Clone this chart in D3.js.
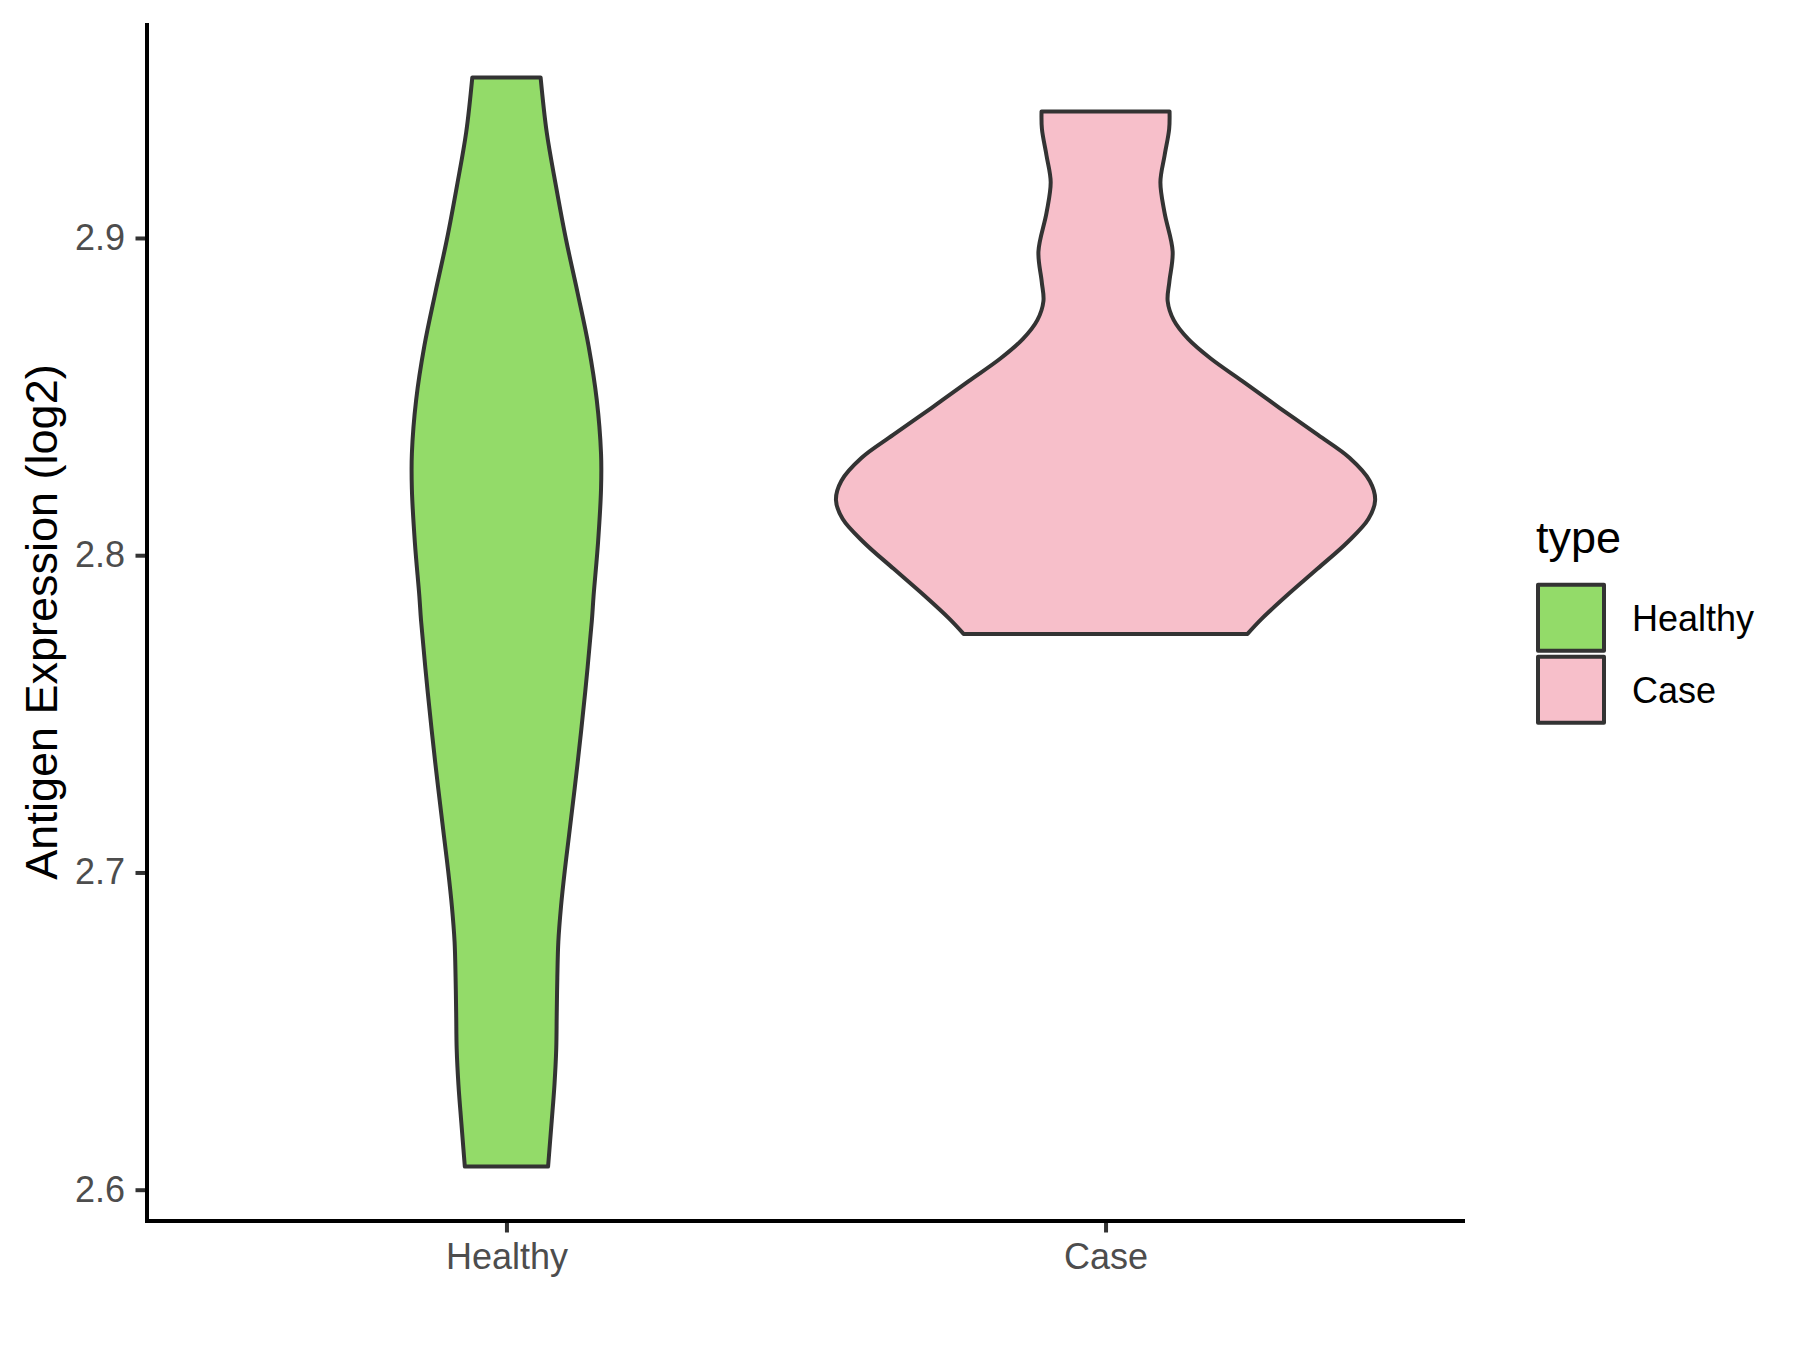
<!DOCTYPE html>
<html>
<head>
<meta charset="utf-8">
<script src="https://cdn.jsdelivr.net/npm/d3@7"></script>
<style>
  html, body { margin: 0; padding: 0; background: #ffffff; }
  svg { display: block; font-family: "Liberation Sans", Arial, sans-serif; }
</style>
</head>
<body>
<svg id="chart" width="1800" height="1350"></svg>
<script>
// ---------------- data ----------------
const categories = ["Healthy", "Case"];
const fillColors = ["#93DB69", "#F7BFCA"];
const yTicks = [2.6, 2.7, 2.8, 2.9];
const yTitle = "Antigen Expression (log2)";
const legendTitle = "type";

// violin profiles: value on y axis, relative violin width (0..1, 1 = widest of all)
const healthyValues = [2.9506, 2.9334, 2.9166, 2.8996, 2.8828, 2.8659, 2.8490, 2.8321, 2.8208, 2.8040,
  2.7871, 2.7794, 2.7569, 2.7343, 2.7118, 2.7006, 2.6893, 2.6781, 2.6668, 2.6555, 2.6443, 2.6330,
  2.6218, 2.6127, 2.6073];
const healthyWidths = [0.1267, 0.1492, 0.1832, 0.2208, 0.2637, 0.3047, 0.3349, 0.3508, 0.3508, 0.3397,
  0.3231, 0.3168, 0.2921, 0.2637, 0.2323, 0.2164, 0.2024, 0.1924, 0.1887, 0.1865, 0.1846, 0.1780,
  0.1680, 0.1595, 0.1544];
const caseValues = [2.9399, 2.9344, 2.9260, 2.9176, 2.9079, 2.8958, 2.8862, 2.8801, 2.8741, 2.8681,
  2.8620, 2.8548, 2.8464, 2.8379, 2.8307, 2.8234, 2.8174, 2.8114, 2.8041, 2.7957, 2.7872, 2.7800, 2.7752];
const caseWidths = [0.2374, 0.2360, 0.2190, 0.2035, 0.2190, 0.2489, 0.2367, 0.2304, 0.2530, 0.3072,
  0.3900, 0.5089, 0.6462, 0.7880, 0.9047, 0.9801, 1.0, 0.9749, 0.8973, 0.7858, 0.6713, 0.5798, 0.5266];

const groups = [
  { name: categories[0], values: healthyValues, widths: healthyWidths, fill: fillColors[0] },
  { name: categories[1], values: caseValues, widths: caseWidths, fill: fillColors[1] }
];

// ---------------- layout ----------------
const panel = { left: 147, right: 1465, top: 23, bottom: 1221 };
const lw = 4;
const svg = d3.select("#chart");

const allVals = healthyValues.concat(caseValues);
const vmin = d3.min(allVals), vmax = d3.max(allVals);
const pad = (vmax - vmin) * 0.05;
const y = d3.scaleLinear().domain([vmin - pad, vmax + pad]).range([panel.bottom, panel.top]);
const x = d3.scalePoint().domain(categories).range([panel.left, panel.right]).padding(0.6);
const halfMax = x.step() * 0.45;

// ---------------- violins ----------------
const area = d3.area()
  .y(d => y(d.v))
  .x0(d => d.cx - d.w * halfMax)
  .x1(d => d.cx + d.w * halfMax)
  .curve(d3.curveCatmullRom.alpha(0.5));

groups.forEach(g => {
  const cx = x(g.name);
  const pts = g.values.map((v, i) => ({ v: v, w: g.widths[i], cx: cx }));
  svg.append("path")
    .attr("d", area(pts) + "Z")
    .attr("fill", g.fill)
    .attr("stroke", "#333333")
    .attr("stroke-width", lw)
    .attr("stroke-linejoin", "round");
});

// ---------------- axes ----------------
const yAxis = d3.axisLeft(y).tickValues(yTicks).tickFormat(d3.format(".1f")).tickSize(11.5).tickPadding(10.5);
const gy = svg.append("g").attr("transform", `translate(${panel.left},0)`).call(yAxis);
gy.select(".domain").remove();
gy.selectAll(".tick line").attr("stroke", "#333333").attr("stroke-width", lw);
gy.selectAll(".tick text").attr("fill", "#4D4D4D").attr("font-size", 36)
  .attr("font-family", "Liberation Sans, Arial, sans-serif");

const xAxis = d3.axisBottom(x).tickSize(11.5).tickPadding(10.5);
const gx = svg.append("g").attr("transform", `translate(0,${panel.bottom})`).call(xAxis);
gx.select(".domain").remove();
gx.selectAll(".tick line").attr("stroke", "#333333").attr("stroke-width", lw);
gx.selectAll(".tick text").attr("fill", "#4D4D4D").attr("font-size", 36)
  .attr("font-family", "Liberation Sans, Arial, sans-serif");

// axis lines
svg.append("line").attr("x1", panel.left).attr("x2", panel.left)
  .attr("y1", panel.top).attr("y2", panel.bottom + lw / 2)
  .attr("stroke", "#000000").attr("stroke-width", lw);
svg.append("line").attr("x1", panel.left - lw / 2).attr("x2", panel.right)
  .attr("y1", panel.bottom).attr("y2", panel.bottom)
  .attr("stroke", "#000000").attr("stroke-width", lw);

// y title
svg.append("text")
  .attr("transform", `translate(57,${(panel.top + panel.bottom) / 2}) rotate(-90)`)
  .attr("text-anchor", "middle")
  .attr("font-size", 45)
  .attr("fill", "#000000")
  .text(yTitle);

// ---------------- legend ----------------
const legend = svg.append("g");
legend.append("text").attr("x", 1536).attr("y", 553).attr("font-size", 45).attr("fill", "#000").text(legendTitle);
groups.forEach((g, i) => {
  const ky = 584.7 + i * 72;
  legend.append("rect").attr("x", 1538).attr("y", ky).attr("width", 66).attr("height", 66)
    .attr("fill", g.fill).attr("stroke", "#333333").attr("stroke-width", lw)
    .attr("stroke-linejoin", "round");
  legend.append("text").attr("x", 1632).attr("y", ky + 33 + 13).attr("font-size", 36)
    .attr("fill", "#000").text(g.name);
});
</script>
</body>
</html>
